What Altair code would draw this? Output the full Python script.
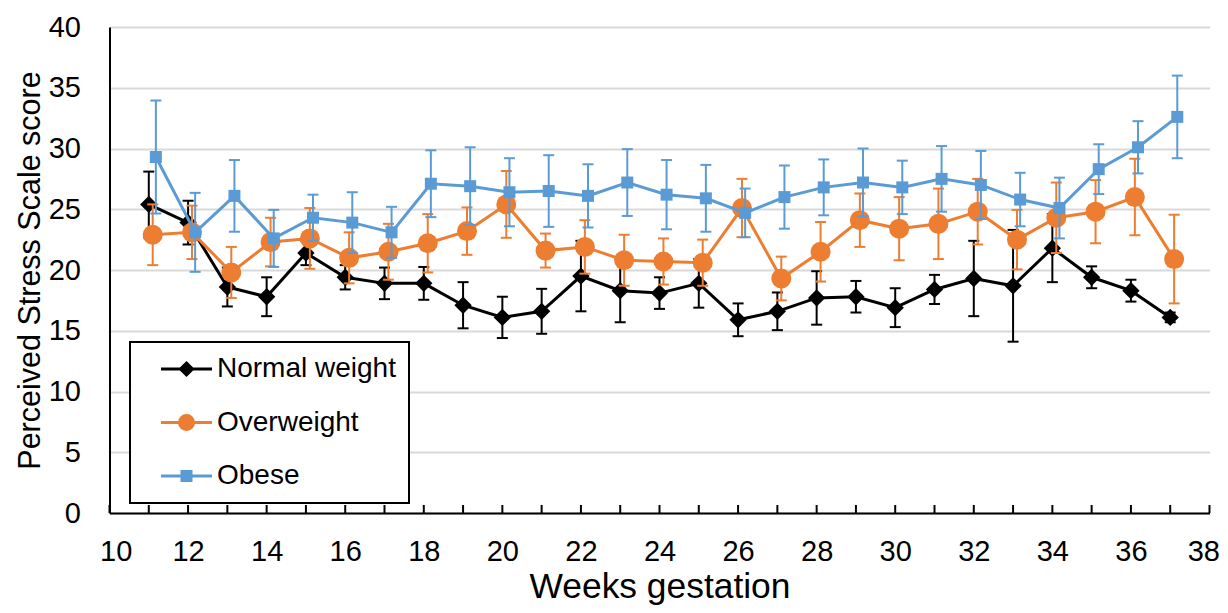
import altair as alt
import pandas as pd

# ---------------- data ----------------
weeks = list(range(11, 38))
tick_weeks = list(range(10, 39))
label_weeks = list(range(10, 39, 2))
y_ticks = list(range(0, 41, 5))
series_names = ["Normal weight", "Overweight", "Obese"]

normal_mean = [25.4, 23.9, 18.6, 17.8, 21.4, 19.4, 18.9, 18.9, 17.1, 16.1, 16.6, 19.5, 18.3, 18.1,
               18.9, 15.9, 16.6, 17.7, 17.8, 16.9, 18.4, 19.3, 18.7, 21.8, 19.4, 18.3, 16.1]
normal_sem = [2.7, 1.8, 1.6, 1.6, 1.0, 1.0, 1.3, 1.35, 1.9, 1.7, 1.85, 2.9, 2.6, 1.3,
              2.0, 1.35, 1.55, 2.2, 1.3, 1.6, 1.2, 3.1, 4.6, 2.8, 0.9, 0.9, 0.4]
over_mean = [22.9, 23.1, 19.8, 22.3, 22.6, 21.0, 21.5, 22.2, 23.2, 25.4, 21.6, 21.9, 20.8, 20.7,
             20.6, 25.1, 19.3, 21.5, 24.1, 23.4, 23.8, 24.8, 22.5, 24.3, 24.8, 26.0, 20.9]
over_sem = [2.5, 2.2, 2.1, 2.0, 2.5, 2.1, 2.3, 2.4, 1.95, 2.75, 1.4, 2.2, 2.1, 1.9,
            1.9, 2.4, 1.8, 2.45, 2.2, 2.6, 2.9, 2.7, 2.45, 2.9, 2.6, 3.15, 3.65]
obese_mean = [29.3, 23.1, 26.1, 22.6, 24.3, 23.9, 23.1, 27.1, 26.9, 26.4, 26.5, 26.1, 27.2, 26.2,
              25.9, 24.7, 26.0, 26.8, 27.2, 26.8, 27.5, 27.0, 25.8, 25.1, 28.3, 30.1, 32.6]
obese_sem = [4.65, 3.25, 2.95, 2.35, 1.9, 2.5, 2.1, 2.75, 3.2, 2.8, 2.95, 2.6, 2.75, 2.85,
             2.75, 2.0, 2.6, 2.3, 2.8, 2.2, 2.7, 2.8, 2.2, 2.5, 2.05, 2.15, 3.4]

# ---------------- styles ----------------
colors = ["#000000", "#ED7D31", "#5B9BD5"]
x_offsets = [0.0, 0.1, 0.18]
marker_shapes = ["diamond", "circle", "square"]
marker_sizes = [300, 400, 144]
legend_paths = [
    "M-2.55,0H2.55M0,-0.6L0.6,0L0,0.6L-0.6,0Z",
    "M-2.55,0H2.55M0.7,0A0.7,0.7,0,1,1,-0.7,0A0.7,0.7,0,1,1,0.7,0Z",
    "M-2.55,0H2.55M-0.45,-0.45H0.45V0.45H-0.45Z",
]
FONT = "Liberation Sans"

frames = []
for name, m, e in zip(series_names, [normal_mean, over_mean, obese_mean],
                      [normal_sem, over_sem, obese_sem]):
    frames.append(pd.DataFrame({"week": weeks, "series": name, "mean": m, "sem": e}))
df = pd.concat(frames, ignore_index=True)
ticks_df = pd.DataFrame({"week": tick_weeks})

x_scale = alt.Scale(domain=[10, 38], nice=False, zero=False)
y_scale = alt.Scale(domain=[0, 40], nice=False)

x_axis = alt.Axis(
    values=label_weeks, format="d", title="Weeks gestation", grid=False,
    ticks=False, tickSize=0, domainColor="black", domainWidth=2,
    labelFont=FONT, labelFontSize=29, labelColor="black", labelPadding=24,
    labelFlush=1, labelFlushOffset=10, labelOverlap=False,
    titleFont=FONT, titleFontSize=35.4, titleFontWeight="normal", titleColor="black",
    titleBaseline="alphabetic", titleY=84,
)
y_axis = alt.Axis(
    values=y_ticks, title="Perceived Stress Scale score", grid=True,
    gridColor="#d9d9d9", gridWidth=2, ticks=False, tickSize=0,
    domainColor="black", domainWidth=2,
    labelFont=FONT, labelFontSize=29, labelColor="black", labelPadding=29,
    titleFont=FONT, titleFontSize=30.5, titleFontWeight="normal", titleColor="black",
    titleAngle=270, titleAlign="center", titleBaseline="alphabetic", titleX=-70, titleY=243,
)

X = alt.X("xpos:Q", scale=x_scale, axis=x_axis)


def Y(field):
    return alt.Y(field, scale=y_scale, axis=y_axis)


layers = []
for name, col, off, shp, sz in zip(series_names, colors, x_offsets, marker_shapes, marker_sizes):
    base = alt.Chart(df).transform_filter(
        alt.datum.series == name
    ).transform_calculate(
        xpos=f"datum.week + {off}",
        lo="datum.mean - datum.sem",
        hi="datum.mean + datum.sem",
    )
    bars = base.mark_rule(color=col, strokeWidth=2).encode(x=X, y=Y("lo:Q"), y2="hi:Q")
    caps = base.transform_fold(["lo", "hi"]).mark_tick(
        color=col, orient="horizontal", size=11, thickness=2, opacity=1
    ).encode(x=X, y=Y("value:Q"))
    line = base.mark_line(color=col, strokeWidth=3).encode(x=X, y=Y("mean:Q"))
    pts = base.mark_point(
        shape=shp, size=sz, filled=True, color=col, opacity=1
    ).encode(x=X, y=Y("mean:Q"))
    layers += [bars, caps, line, pts]

# inward x-axis ticks
axis_ticks = alt.Chart(ticks_df).transform_calculate(xpos="datum.week").mark_tick(
    orient="vertical", size=8, thickness=2, color="black", yOffset=-4, opacity=1
).encode(x=X, y=alt.datum(0))
layers.append(axis_ticks)

# legend (library legend, driven by the series scales)
leg = alt.Legend(
    title=None, orient="none", legendX=20.5, legendY=315, padding=13, rowPadding=25.5,
    symbolOffset=29.5, labelOffset=16.5, labelFont=FONT, labelFontSize=28,
    labelColor="black", labelLimit=400, symbolSize=400, symbolStrokeWidth=3,
    symbolOpacity=1, strokeColor="black", fillColor="white",
)
legend_layer = alt.Chart(df).transform_filter("false").transform_calculate(
    xpos="datum.week"
).mark_point(filled=True, opacity=1, size=400, strokeWidth=3).encode(
    x=X, y=Y("mean:Q"),
    fill=alt.Fill("series:N", scale=alt.Scale(domain=series_names, range=colors), legend=leg),
    stroke=alt.Stroke("series:N", scale=alt.Scale(domain=series_names, range=colors), legend=leg),
    shape=alt.Shape("series:N", scale=alt.Scale(domain=series_names, range=legend_paths), legend=leg),
)
layers.append(legend_layer)

chart = alt.layer(*layers).properties(
    width=1100, height=486,
    autosize=alt.AutoSizeParams(type="none"),
    padding={"left": 101.5, "top": 19, "right": 10.5, "bottom": 92},
    background="white",
).configure_view(stroke=None).configure_legend(strokeWidth=2)

chart.save("out.html", embed_options={"renderer": "svg", "actions": False})
